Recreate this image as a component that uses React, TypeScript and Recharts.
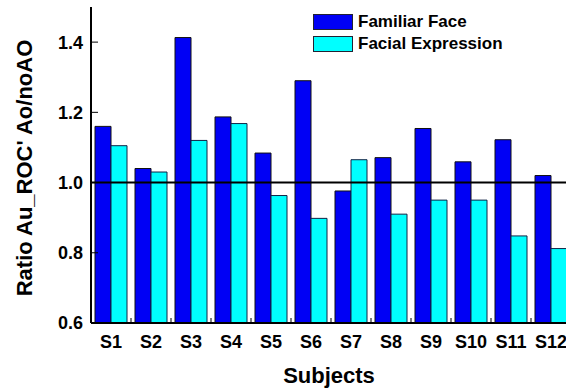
import { BarChart, Bar, XAxis, YAxis, ReferenceLine, Label } from 'recharts'

const subjects = ['S1', 'S2', 'S3', 'S4', 'S5', 'S6', 'S7', 'S8', 'S9', 'S10', 'S11', 'S12']
const familiarFace = [1.16, 1.04, 1.413, 1.187, 1.084, 1.29, 0.976, 1.071, 1.154, 1.059, 1.122, 1.02]
const facialExpression = [1.105, 1.03, 1.12, 1.168, 0.963, 0.898, 1.065, 0.91, 0.95, 0.95, 0.848, 0.812]
const yTicks = [0.6, 0.8, 1.0, 1.2, 1.4]

const BLUE = '#0000F5'
const CYAN = '#00FFFF'
const FONT = '"Liberation Sans", Arial, sans-serif'

const data = subjects.map((s, i) => ({
  subject: s,
  familiar: familiarFace[i],
  facial: facialExpression[i],
}))

const legendItems = [
  { label: 'Familiar Face', color: BLUE },
  { label: 'Facial Expression', color: CYAN },
]

function SubjectTick({ x, y, payload }: { x?: number; y?: number; payload?: { value: string } }) {
  const cx = x ?? 0
  const cy = y ?? 0
  return (
    <g>
      <line x1={cx + 20} x2={cx + 20} y1={cy - 1} y2={cy - 5} stroke="#000" strokeWidth={1} />
      <text x={cx} y={cy + 25} textAnchor="middle" fontFamily={FONT} fontWeight="bold" fontSize={18} fill="#000">
        {payload?.value}
      </text>
    </g>
  )
}

// light grey frame on top with small ticks pointing down
function TopTick({ x, y }: { x?: number; y?: number }) {
  const cx = x ?? 0
  const cy = y ?? 0
  return (
    <g stroke="#bbb" strokeWidth={1}>
      <line x1={cx} x2={cx} y1={cy} y2={cy + 3} />
      <line x1={cx + 20} x2={cx + 20} y1={cy} y2={cy + 3} />
    </g>
  )
}

function LegendBox() {
  return (
    <div
      style={{
        position: 'absolute',
        left: 313,
        top: 11,
        fontFamily: FONT,
        fontWeight: 'bold',
        fontSize: 17,
        color: '#000',
      }}
    >
      {legendItems.map((it) => (
        <div key={it.label} style={{ display: 'flex', alignItems: 'center', height: 22 }}>
          <span
            style={{
              width: 38,
              height: 14,
              background: it.color,
              border: '1px solid #223',
              marginRight: 5,
              display: 'inline-block',
            }}
          />
          <span>{it.label}</span>
        </div>
      ))}
    </div>
  )
}

export default function App() {
  return (
    <div style={{ position: 'absolute', left: 0, top: 0, width: 566, height: 389, overflow: 'hidden', background: '#fff' }}>
      <BarChart
        width={575}
        height={389}
        data={data}
        margin={{ top: 7, right: 4, left: 40, bottom: 0 }}
        barCategoryGap={4}
        barGap={0}
      >
        <XAxis
          dataKey="subject"
          tickLine={false}
          tickSize={0}
          tickMargin={0}
          axisLine={{ stroke: '#000', strokeWidth: 2 }}
          tick={<SubjectTick />}
          interval={0}
          height={66}
        >
          <Label
            content={() => (
              <text x={329} y={383} textAnchor="middle" fontFamily={FONT} fontWeight="bold" fontSize={22} fill="#000">
                Subjects
              </text>
            )}
          />
        </XAxis>
        <XAxis
          xAxisId="top"
          orientation="top"
          dataKey="subject"
          height={0}
          tickLine={false}
          tickSize={0}
          tickMargin={0}
          interval={0}
          axisLine={{ stroke: '#bbb', strokeWidth: 1.5 }}
          tick={<TopTick />}
        />
        <YAxis
          type="number"
          domain={[0.6, 1.5]}
          ticks={yTicks}
          allowDataOverflow
          width={51}
          tickSize={-7}
          tickMargin={15}
          tickFormatter={(v: number) => v.toFixed(1)}
          tickLine={{ stroke: '#000', strokeWidth: 1 }}
          axisLine={{ stroke: '#000', strokeWidth: 2 }}
          tick={{ fill: '#000', fontFamily: FONT, fontWeight: 'bold', fontSize: 18 }}
        >
          <Label
            content={() => (
              <text
                x={32}
                y={168}
                transform="rotate(-90 32 168)"
                textAnchor="middle"
                fontFamily={FONT}
                fontWeight="bold"
                fontSize={22}
                fill="#000"
              >
                Ratio Au_ROC' Ao/noAO
              </text>
            )}
          />
        </YAxis>
        <Bar dataKey="familiar" name="Familiar Face" fill={BLUE} stroke="#111" strokeWidth={1} isAnimationActive={false} />
        <Bar dataKey="facial" name="Facial Expression" fill={CYAN} stroke="#124" strokeWidth={1} isAnimationActive={false} />
        <ReferenceLine y={1.0} stroke="#000" strokeWidth={2} />
      </BarChart>
      <LegendBox />
    </div>
  )
}
